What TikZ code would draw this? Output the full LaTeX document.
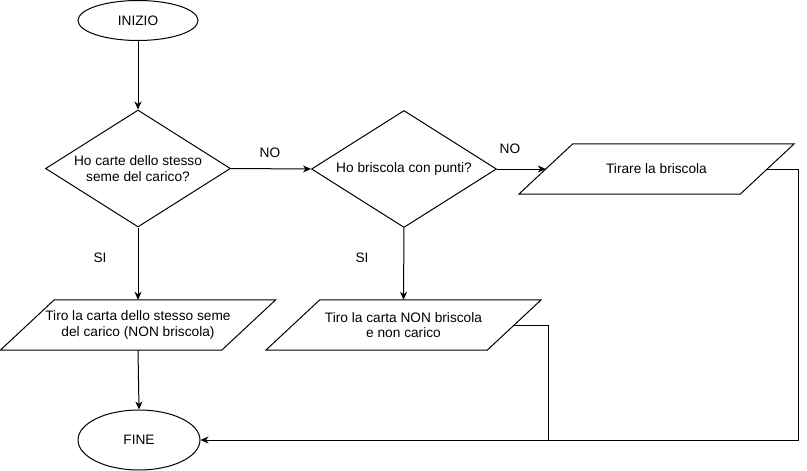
\documentclass[tikz,border=0pt]{standalone}
\usepackage{fontspec}
\setmainfont{Liberation Sans}
\usetikzlibrary{shapes.geometric,arrows.meta,calc}
\newcommand\drawpara[1]{\draw[line width=1pt] ($(#1.south west)+(-27,0)$) -- ($(#1.south east)+(-27,0)$) -- ($(#1.north east)+(27,0)$) -- ($(#1.north west)+(27,0)$) -- cycle;}
\begin{document}
\begin{tikzpicture}[x=1pt,y=-1pt,
  every node/.style={font=\fontsize{13.7}{15.5}\selectfont, text=black},
  term/.style={draw, ellipse, line width=1pt, inner sep=0pt},
  decis/.style={draw, diamond, line width=1pt, inner sep=0pt, minimum width=185pt, minimum height=117pt},
  iobox/.style={rectangle, minimum width=221pt, minimum height=50pt, inner sep=0pt, align=center},
  arr/.style={line width=1pt, -{Stealth[length=8pt,width=7pt,inset=2.5pt]}},
  lbl/.style={inner sep=0pt}
]
\useasboundingbox (0,0) rectangle (807,471);
\node[term, minimum width=120pt, minimum height=40pt] (start) at (138,20.5) {INIZIO};
\node[decis, label={[align=center]center:Ho carte dello stesso\\ seme del carico?}] (d1) at (138,168.5) {};
\node[decis, label={center:Ho briscola con punti?}] (d2) at (404,169) {};
\node[iobox] (p3) at (656.5,169) {Tirare la briscola};
\node[iobox] (p1) at (138,325) {Tiro la carta dello stesso seme\\ del carico (NON briscola)};
\node[iobox] (p2) at (403.5,325) {Tiro la carta NON briscola\\ e non carico};
\drawpara{p1}
\drawpara{p2}
\drawpara{p3}
\node[term, minimum width=122pt, minimum height=60pt] (fine) at (139,440) {FINE};
\coordinate (r1) at (798,440);
\coordinate (r2) at (548,440);
\node[lbl] (no1) at (270,153) {NO};
\node[lbl] (no2) at (510,149) {NO};
\node[lbl] (si1) at (100,258) {SI};
\node[lbl] (si2) at (362,258) {SI};
\draw[arr] (start.south) -- (d1.north);
\draw[arr] (d1.east) -- (d2.west);
\draw[arr] (d2.east) -- (p3.west);
\draw[arr] (d1.south) -- (p1.north);
\draw[arr] (d2.south) -- (p2.north);
\draw[arr] (p1.south) -- (fine.north);
\draw[arr] (p3.east) -| (r1) -- (fine.east);
\draw[line width=1pt] (p2.east) -| (r2);
\end{tikzpicture}
\end{document}
